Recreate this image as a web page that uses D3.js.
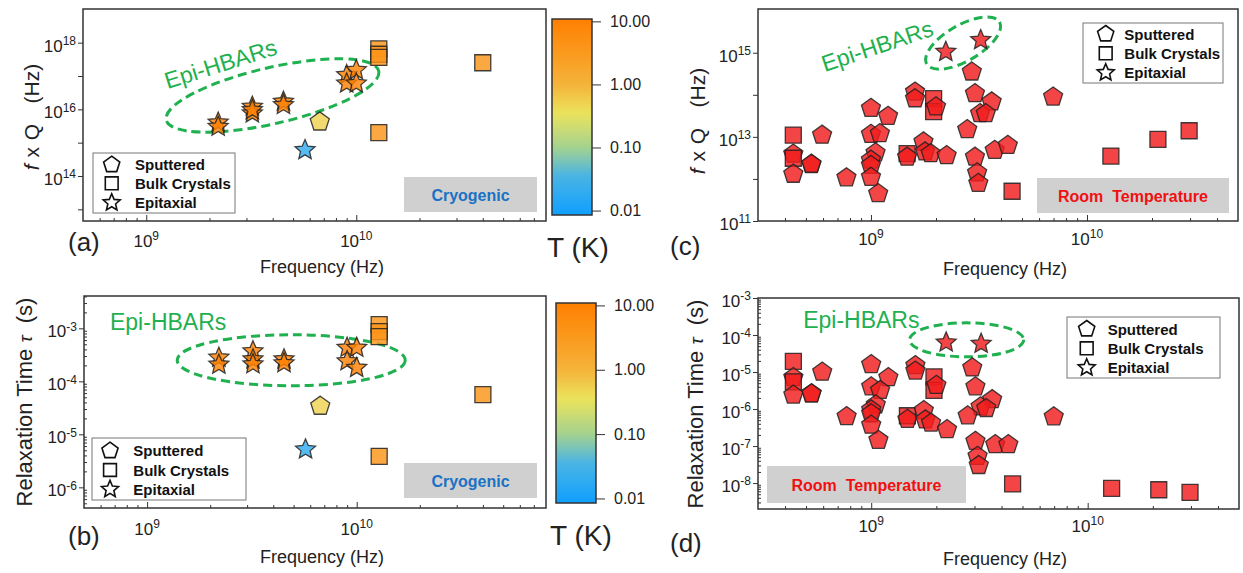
<!DOCTYPE html>
<html>
<head>
<meta charset="utf-8">
<script src="https://cdn.jsdelivr.net/npm/d3@7"></script>
<style>
  body { margin: 0; background: #fff; }
  svg { font-family: Arial, "Liberation Sans", sans-serif; }
</style>
</head>
<body>
<svg id="fig" width="1243" height="573"></svg>
<script>
// ---- cryogenic resonators (panels a, b) ----
const cryoType = ['star','star','star','star','star','star','star','star','star','star','star','star',
                  'pent','sq','sq','sq','sq','sq'];
const cryoFreq = [2.2e9, 2.2e9, 3.2e9, 3.2e9, 3.2e9, 4.5e9, 4.5e9, 9e9, 1e10, 9e9, 1e10, 5.7e9,
                  6.7e9, 1.28e10, 1.28e10, 1.28e10, 1.28e10, 4e10];
const cryoFQ   = [4e15, 3e15, 1.2e16, 7.6e15, 9.5e15, 1.7e16, 1.35e16, 1.07e17, 1.5e17, 6e16, 6e16, 6e14,
                  4.2e15, 6.5e17, 4.5e17, 3.6e17, 2e15, 2.5e17];
const cryoTau  = [2.8e-4, 2.07e-4, 3.7e-4, 2.6e-4, 2.1e-4, 2.6e-4, 2.2e-4, 4.3e-4, 4.3e-4, 2.4e-4, 1.8e-4, 5.2e-6,
                  3.4e-5, 1.17e-3, 8.7e-4, 7e-4, 3.85e-6, 5.6e-5];
const cryoT    = [10, 10, 10, 10, 10, 10, 10, 10, 10, 10, 10, 0.02,
                  0.5, 4, 4, 4, 4, 4];

// ---- room temperature resonators (panels c, d) ----
const rtType = ['sq','pent','sq','pent','pent','pent','pent','pent','pent','pent','pent','pent','pent','pent','pent','pent','pent',
                'pent','pent','sq','sq','pent','sq','pent','pent','pent','pent','pent','star','star',
                'pent','pent','pent','pent','pent','pent','pent','pent','pent','pent','pent','sq','pent','sq','sq','sq'];
const rtFreq = [4.37e8, 4.37e8, 4.37e8, 4.37e8, 5.3e8, 5.3e8, 5.94e8, 7.7e8, 1e9, 1.2e9, 1e9, 1.1e9, 1.05e9, 1e9, 1e9, 1e9, 1.08e9,
                1.6e9, 1.6e9, 1.95e9, 1.95e9, 2e9, 1.47e9, 1.47e9, 1.75e9, 1.78e9, 1.89e9, 2.24e9, 2.22e9, 3.22e9,
                2.93e9, 3.03e9, 3.62e9, 3.2e9, 3.4e9, 2.79e9, 3.03e9, 3.1e9, 3.14e9, 3.74e9, 4.3e9, 4.5e9, 6.97e9, 1.29e10, 2.13e10, 2.97e10];
const rtFQ   = [1.1e13, 3.9e12, 3.1e12, 1.3e12, 2.2e12, 2.25e12, 1.1e13, 1.07e12, 4.8e13, 3.1e13, 1.15e13, 1.2e13, 4.2e12, 2.8e12, 2.1e12, 1.1e12, 4.5e11,
                1.17e14, 8.1e13, 8.1e13, 4e13, 5.2e13, 4e12, 3.3e12, 7.6e12, 4.4e12, 4e12, 3.6e12, 1.05e15, 2e15,
                3.5e14, 1.07e14, 6.8e13, 3.6e13, 3.6e13, 1.5e13, 3.3e12, 1.4e12, 7.9e11, 4.8e12, 6.3e12, 5.1e11, 8.9e13, 3.5e12, 8.7e12, 1.4e13];
const rtTau  = [1.95e-5, 7.1e-6, 5.4e-6, 2.4e-6, 2.6e-6, 2.6e-6, 1e-5, 6.3e-7, 1.6e-5, 7.1e-6, 4e-6, 3.2e-6, 1.3e-6, 9.5e-7, 7.5e-7, 3.7e-7, 1.44e-7,
                1.5e-5, 1.07e-5, 7.4e-6, 3.2e-6, 4.4e-6, 6.6e-7, 5.3e-7, 9.1e-7, 5.1e-7, 4.2e-7, 2.8e-7, 6.3e-5, 5.8e-5,
                1.3e-5, 4e-6, 1.8e-6, 1.15e-6, 1.04e-6, 6.6e-7, 1.35e-7, 5.3e-8, 3e-8, 1.1e-7, 1.1e-7, 9.5e-9, 6.2e-7, 7.2e-9, 6.6e-9, 5.6e-9];

const legendTypes = ['pent', 'sq', 'star'];
const legendLabels = ['Sputtered', 'Bulk Crystals', 'Epitaxial'];
const cbarTicks = [10, 1, 0.1, 0.01];

const svg = d3.select('#fig');
const green = '#1fb04f';

// colour map of the temperature bar
const cmapStops = ['#0f9fff', '#4ab4e4', '#a4d28f', '#ebe35c', '#f5b33a', '#ff7f00'];
const cmapPos = [0, 0.2, 0.344, 0.52, 0.666, 1];
const cmap = d3.scaleLinear().domain(cmapPos).range(cmapStops).interpolate(d3.interpolateRgb);
const tLog = d3.scaleLog().domain([0.0085, 10.9]).range([0, 1]).clamp(true);
const tColor = t => cmap(tLog(t));

function shapePath(type, k) {
    k = k || 1;
    if (type === 'sq') {
        const h = 8 * k;
        return `M${-h},${-h}H${h}V${h}H${-h}Z`;
    }
    const pts = [];
    if (type === 'pent') {
        const R = 10 * k;
        for (let i = 0; i < 5; i++) {
            const a = (-90 + 72 * i) * Math.PI / 180;
            pts.push([R * Math.cos(a), R * Math.sin(a)]);
        }
    } else {
        const R = 10.5 * k, r = 4.8 * k;
        for (let i = 0; i < 10; i++) {
            const a = (-90 + 36 * i) * Math.PI / 180;
            const rr = i % 2 ? r : R;
            pts.push([rr * Math.cos(a), rr * Math.sin(a)]);
        }
    }
    return 'M' + pts.map(p => p.join(',')).join('L') + 'Z';
}

function powLabel(text, exp) {
    text.append('tspan').text('10');
    text.append('tspan').attr('dy', '-0.55em').attr('font-size', '12px').text(exp);
}

function minorTicks(lo, hi) {
    const out = [];
    for (let e = Math.floor(Math.log10(lo)); e <= Math.ceil(Math.log10(hi)); e++) {
        for (let m = 2; m <= 9; m++) {
            const v = m * Math.pow(10, e);
            if (v > lo * 1.01 && v < hi * 0.99) out.push(v);
        }
    }
    return out;
}

function drawPanel(p) {
    const x = d3.scaleLog().domain(p.xDomain).range([p.left, p.right]);
    const y = d3.scaleLog().domain(p.yDomain).range([p.bottom, p.top]);
    const g = svg.append('g');

    g.append('rect')
        .attr('x', p.left).attr('y', p.top)
        .attr('width', p.right - p.left).attr('height', p.bottom - p.top)
        .attr('fill', '#fff');

    // grey tag box
    g.append('rect')
        .attr('x', p.tag.x).attr('y', p.tag.y).attr('width', p.tag.w).attr('height', p.tag.h)
        .attr('fill', '#d0d0d0');
    g.append('text')
        .attr('x', p.tag.x + p.tag.w / 2).attr('y', p.tag.y + p.tag.h / 2 + 6)
        .attr('text-anchor', 'middle')
        .attr('font-size', '16px').attr('font-weight', 'bold')
        .attr('fill', p.tag.color)
        .attr('xml:space', 'preserve')
        .text(p.tag.text);

    // Epi-HBARs ellipse and label
    const e = p.ellipse;
    g.append('ellipse')
        .attr('transform', `translate(${x(e.f)},${y(e.v)}) rotate(${e.rot})`)
        .attr('rx', e.rx).attr('ry', e.ry)
        .attr('fill', 'none').attr('stroke', green)
        .attr('stroke-width', 3).attr('stroke-dasharray', '9,5');
    g.append('text')
        .attr('transform', `translate(${x(p.hbarText.f)},${y(p.hbarText.v)}) rotate(${p.hbarText.rot})`)
        .attr('text-anchor', 'middle').attr('dy', '0.35em')
        .attr('font-size', '23px').attr('fill', green)
        .text('Epi-HBARs');

    // data points
    g.selectAll('.pt')
        .data(p.data)
        .join('path')
            .attr('class', 'pt')
            .attr('d', d => shapePath(d.type))
            .attr('transform', d => `translate(${x(d.f)},${y(d.v)})`)
            .attr('fill', d => d.fill)
            .attr('fill-opacity', 0.82)
            .attr('stroke', '#222')
            .attr('stroke-opacity', 0.85)
            .attr('stroke-width', 1.3);

    // legend
    const lg = p.legend;
    g.append('rect')
        .attr('x', lg.x).attr('y', lg.y).attr('width', lg.w).attr('height', lg.h)
        .attr('fill', '#fff').attr('stroke', '#777').attr('stroke-width', 1);
    legendTypes.forEach((t, i) => {
        g.append('path')
            .attr('d', shapePath(t, t === 'sq' ? 0.8 : 0.85))
            .attr('transform', `translate(${lg.sx},${lg.rows[i]})`)
            .attr('fill', '#fff').attr('stroke', '#111').attr('stroke-width', 1.6);
        g.append('text')
            .attr('x', lg.tx).attr('y', lg.rows[i] + 5.5)
            .attr('font-size', '15px').attr('font-weight', 'bold').attr('fill', '#111')
            .text(legendLabels[i]);
    });

    // frame
    g.append('rect')
        .attr('x', p.left).attr('y', p.top)
        .attr('width', p.right - p.left).attr('height', p.bottom - p.top)
        .attr('fill', 'none').attr('stroke', '#333').attr('stroke-width', 1.5);

    // x axis: ticks point inward
    const xMinor = minorTicks(p.xDomain[0], p.xDomain[1]);
    g.append('g')
        .attr('transform', `translate(0,${p.bottom})`)
        .style('color', '#333')
        .call(d3.axisBottom(x).tickValues(xMinor).tickSize(-3).tickFormat(''))
        .call(a => a.select('.domain').remove());
    g.append('g')
        .attr('transform', `translate(0,${p.bottom})`)
        .style('color', '#333')
        .call(d3.axisBottom(x).tickValues(p.xMajor).tickSize(-6).tickFormat(''))
        .call(a => a.select('.domain').remove());
    g.selectAll('.xlab')
        .data(p.xMajor)
        .join('text')
            .attr('class', 'xlab')
            .attr('x', d => x(d)).attr('y', p.xLabY)
            .attr('text-anchor', 'middle')
            .attr('font-size', '17px').attr('fill', '#222')
            .each(function(d) { powLabel(d3.select(this), Math.round(Math.log10(d))); });

    // y axis
    g.append('g')
        .attr('transform', `translate(${p.left},0)`)
        .style('color', '#333')
        .call(d3.axisLeft(y).tickValues(p.yTicks).tickSize(5).tickFormat(''))
        .call(a => a.select('.domain').remove());
    if (p.yMinor) {
        g.append('g')
            .attr('transform', `translate(${p.left},0)`)
            .style('color', '#333')
            .call(d3.axisLeft(y).tickValues(minorTicks(p.yDomain[0], p.yDomain[1])).tickSize(-3).tickFormat(''))
            .call(a => a.select('.domain').remove());
    }
    g.selectAll('.ylab')
        .data(p.yLabels)
        .join('text')
            .attr('class', 'ylab')
            .attr('x', p.left - 7).attr('y', d => y(d) + 9)
            .attr('text-anchor', 'end')
            .attr('font-size', '17px').attr('fill', '#222')
            .each(function(d) { powLabel(d3.select(this), Math.round(Math.log10(d)).toString()); });

    // axis titles
    g.append('text')
        .attr('x', (p.xTitle.cx)).attr('y', p.xTitle.y)
        .attr('text-anchor', 'middle').attr('font-size', '18px').attr('fill', '#222')
        .text('Frequency (Hz)');
    const yt = g.append('text')
        .attr('transform', `translate(${p.yTitle.cx},${p.yTitle.cy}) rotate(-90)`)
        .attr('text-anchor', 'middle').attr('dy', '0.35em')
        .attr('fill', '#222')
        .attr('xml:space', 'preserve');
    if (p.yTitle.kind === 'fq') {
        yt.attr('font-size', '21px').attr('word-spacing', '1px');
        yt.append('tspan').attr('font-style', 'italic').text('f');
        yt.append('tspan').text(' x Q   (Hz)');
    } else {
        yt.attr('font-size', '22px');
        yt.append('tspan').text('Relaxation Time ');
        yt.append('tspan').attr('font-style', 'italic').attr('font-size', '19px').text('τ');
        yt.append('tspan').text('  (s)');
    }

    // panel letter
    g.append('text')
        .attr('x', p.letter.x).attr('y', p.letter.y)
        .attr('font-size', '26px').attr('fill', '#222')
        .text(p.letter.text);
}

function colorBar(cb) {
    const id = 'grad' + cb.top;
    const grad = svg.append('defs').append('linearGradient')
        .attr('id', id).attr('x1', 0).attr('y1', 1).attr('x2', 0).attr('y2', 0);
    d3.range(0, 1.0001, 0.025).forEach(t => {
        grad.append('stop').attr('offset', t).attr('stop-color', cmap(t));
    });
    const s = d3.scaleLog().domain(tLog.domain()).range([cb.bottom, cb.top]);
    svg.append('rect')
        .attr('x', cb.left).attr('y', cb.top).attr('width', cb.w).attr('height', cb.bottom - cb.top)
        .attr('fill', `url(#${id})`).attr('stroke', '#333').attr('stroke-width', 1.5);
    svg.append('g')
        .attr('transform', `translate(${cb.left + cb.w},0)`)
        .style('color', '#333')
        .style('font-size', '16px')
        .call(d3.axisRight(s).tickValues(cbarTicks).tickSize(9).tickPadding(9).tickFormat(d3.format('.2f')))
        .call(a => a.select('.domain').remove())
        .call(a => a.selectAll('text').attr('fill', '#222').style('font-family', 'Arial, "Liberation Sans", sans-serif'));
    svg.append('text')
        .attr('x', cb.tx).attr('y', cb.ty)
        .attr('font-size', '28px').attr('fill', '#222')
        .text('T (K)');
}

const cryoBase = cryoType.map((t, i) => ({ type: t, f: cryoFreq[i], fill: tColor(cryoT[i]) }));
const rtBase = rtType.map((t, i) => ({ type: t, f: rtFreq[i], fill: '#f01c1c' }));

drawPanel({
    left: 83, right: 546, top: 9, bottom: 221,
    xDomain: [5e8, 8e10], yDomain: [Math.pow(10, 12.65), Math.pow(10, 19.01)],
    xMajor: [1e9, 1e10], xLabY: 247,
    yTicks: [1e13, 1e14, 1e15, 1e16, 1e17, 1e18], yLabels: [1e14, 1e16, 1e18],
    data: cryoBase.map((d, i) => ({ ...d, v: cryoFQ[i] })),
    ellipse: { f: 3.99e9, v: 2.6e16, rx: 109, ry: 28, rot: -13 },
    hbarText: { f: 2.26e9, v: 2.3e17, rot: -17.5 },
    tag: { x: 404, y: 177, w: 133, h: 35, text: 'Cryogenic', color: '#1a72c4' },
    legend: { x: 93, y: 153, w: 142, h: 60, sx: 111.7, tx: 135, rows: [164.7, 183.3, 202.7] },
    xTitle: { cx: 322, y: 273 },
    yTitle: { cx: 32, cy: 117, kind: 'fq' },
    letter: { x: 68, y: 251, text: '(a)' }
});

drawPanel({
    left: 84, right: 546, top: 296, bottom: 508,
    xDomain: [5e8, 8e10], yDomain: [Math.pow(10, -6.39), Math.pow(10, -2.39)],
    xMajor: [1e9, 1e10], xLabY: 535, yMinor: true,
    yTicks: [1e-6, 1e-5, 1e-4, 1e-3], yLabels: [1e-6, 1e-5, 1e-4, 1e-3],
    data: cryoBase.map((d, i) => ({ ...d, v: cryoTau[i] })),
    ellipse: { f: 4.87e9, v: 2.5e-4, rx: 114, ry: 25.5, rot: 0 },
    hbarText: { f: 1.26e9, v: 1.3e-3, rot: 0 },
    tag: { x: 404, y: 463, w: 133, h: 35, text: 'Cryogenic', color: '#1a72c4' },
    legend: { x: 92, y: 438, w: 154, h: 62, sx: 110, tx: 133.3, rows: [450.7, 470, 489.3] },
    xTitle: { cx: 322, y: 563 },
    yTitle: { cx: 24, cy: 402, kind: 'tau' },
    letter: { x: 68, y: 545, text: '(b)' }
});

drawPanel({
    left: 758, right: 1238, top: 9, bottom: 221,
    xDomain: [3e8, 5e10], yDomain: [1e11, Math.pow(10, 16.04)],
    xMajor: [1e9, 1e10], xLabY: 245,
    yTicks: [1e11, 1e12, 1e13, 1e14, 1e15], yLabels: [1e11, 1e13, 1e15],
    data: rtBase.map((d, i) => ({ ...d, v: rtFQ[i] })),
    ellipse: { f: 2.67e9, v: 1.7e15, rx: 42, ry: 18, rot: -30 },
    hbarText: { f: 1.07e9, v: 1.45e15, rot: -18.5 },
    tag: { x: 1037, y: 178, w: 192, h: 35, text: 'Room  Temperature', color: '#f01010' },
    legend: { x: 1083, y: 23, w: 140, h: 60, sx: 1105.7, tx: 1124.3, rows: [34, 53.3, 72.7] },
    xTitle: { cx: 1005, y: 275 },
    yTitle: { cx: 698, cy: 121, kind: 'fq' },
    letter: { x: 670, y: 255, text: '(c)' }
});

drawPanel({
    left: 758, right: 1239, top: 298, bottom: 509,
    xDomain: [3e8, 5e10], yDomain: [Math.pow(10, -8.7), 1e-3],
    xMajor: [1e9, 1e10], xLabY: 532, yMinor: true,
    yTicks: [1e-8, 1e-7, 1e-6, 1e-5, 1e-4, 1e-3], yLabels: [1e-8, 1e-7, 1e-6, 1e-5, 1e-4, 1e-3],
    data: rtBase.map((d, i) => ({ ...d, v: rtTau[i] })),
    ellipse: { f: 2.76e9, v: 7.4e-5, rx: 57, ry: 17, rot: 0 },
    hbarText: { f: 9e8, v: 2.6e-4, rot: 0 },
    tag: { x: 767, y: 466, w: 199, h: 37, text: 'Room  Temperature', color: '#f01010' },
    legend: { x: 1067, y: 317, w: 153, h: 61, sx: 1086.7, tx: 1107.7, rows: [329, 348.3, 367.7] },
    xTitle: { cx: 1005, y: 565 },
    yTitle: { cx: 695, cy: 404, kind: 'tau' },
    letter: { x: 670, y: 552, text: '(d)' }
});

colorBar({ left: 552, w: 40, top: 19, bottom: 215, tx: 547, ty: 257 });
colorBar({ left: 556, w: 40, top: 303, bottom: 503, tx: 550, ty: 545 });
</script>
</body>
</html>
